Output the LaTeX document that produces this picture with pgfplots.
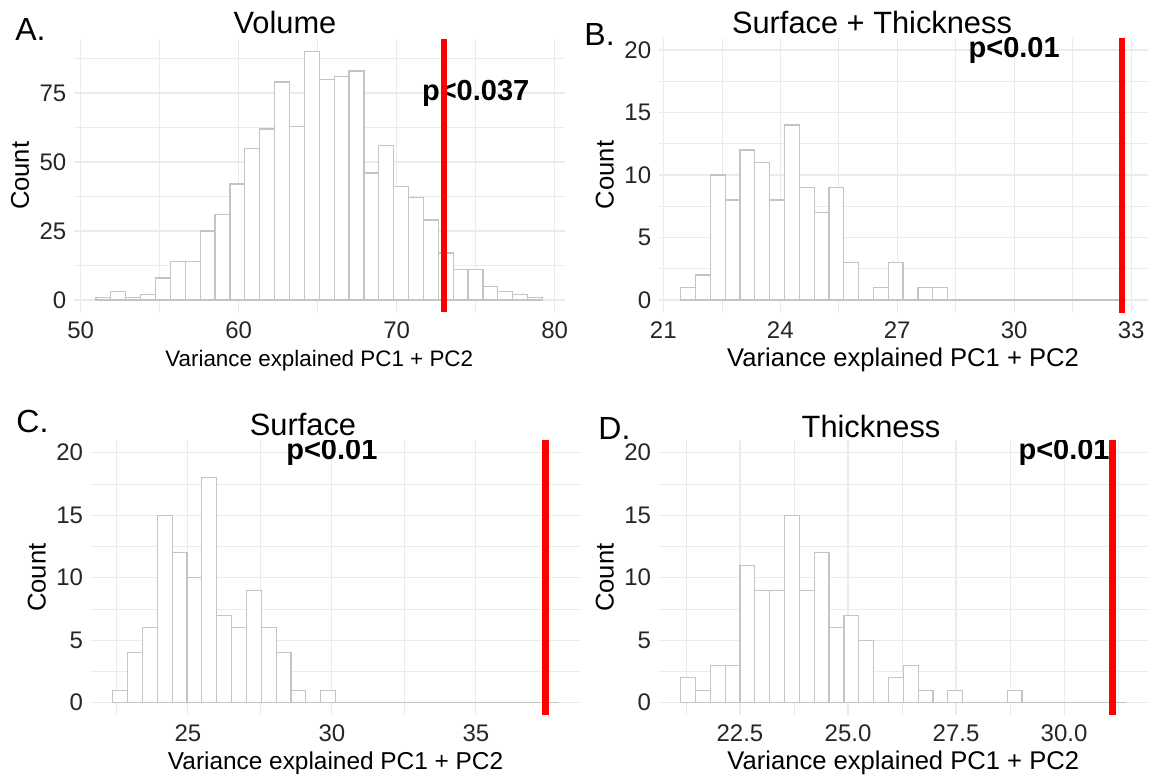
\documentclass[border=0pt]{standalone}
\usepackage{pgfplots}
\pgfplotsset{compat=1.18}
\usepackage{fontspec}
\setmainfont{Liberation Sans}
\definecolor{gridc}{HTML}{EBEBEB}
\definecolor{barc}{HTML}{C4C4C4}
\tikzset{pval/.style={font=\fontsize{14.5}{17}\bfseries\selectfont}}
\pgfplotsset{
  histo/.style={
    scale only axis,
    anchor=south west,
    axis line style={draw=none},
    major tick length=0pt,
    minor tick length=0pt,
    xmajorgrids, ymajorgrids, xminorgrids, yminorgrids,
    major grid style={draw=gridc, line width=0.55pt},
    minor grid style={draw=gridc, line width=0.3pt},
    tick label style={font=\fontsize{12}{14}\selectfont, text=black!85, inner sep=0pt},
    xticklabel style={anchor=base, yshift=-13pt},
    yticklabel style={anchor=east, xshift=-3.5pt},
    xlabel={Variance explained PC1 + PC2},
    ylabel={Count},
    every axis x label/.style={at={([yshift=-27pt]axis description cs:0.5,0)}, anchor=base, inner sep=0pt, font=\fontsize{12.8}{15}\selectfont},
    every axis y label/.style={at={([xshift=-22.4pt]axis description cs:0,0.5)}, rotate=90, anchor=base, inner sep=0pt, font=\fontsize{12.8}{15}\selectfont},
  },
  histbar/.style={ybar interval, fill=white, draw=barc, line width=0.6pt},
  vline/.style={draw=red, line width=3.3pt},
}
\begin{document}
\begin{tikzpicture}
\useasboundingbox (0,0) rectangle (575.5pt,-388.5pt);

% ---------------- A. Volume ----------------
\begin{axis}[histo, at={(36.85pt,-156.2pt)}, width=245.55pt, height=136.6pt,
  every axis x label/.append style={font=\fontsize{11.2}{13}\selectfont},
  xmin=49.56, xmax=80.64, ymin=-4.5, ymax=94.5,
  xtick={50,60,70,80}, xticklabels={50,60,70,80}, minor xtick={55,65,75},
  ytick={0,25,50,75}, yticklabels={0,25,50,75}, minor ytick={12.5,37.5,62.5,87.5}]
\addplot[histbar] coordinates {
(50.970,1) (51.912,3) (52.854,1) (53.796,2) (54.738,8) (55.680,14) (56.622,14) (57.564,25)
(58.506,31) (59.448,42) (60.390,55) (61.332,62) (62.274,79) (63.216,63) (64.158,90) (65.100,80)
(66.042,81) (66.984,83) (67.926,46) (68.868,56) (69.810,41) (70.752,37) (71.694,29) (72.636,17)
(73.578,11) (74.520,11) (75.462,5) (76.404,3) (77.346,2) (78.288,1) (79.230,0)};
\node[pval] at (axis cs:75,75) {p<0.037};
\addplot[vline] coordinates {(73.0,-4.5) (73.0,94.5)};
\end{axis}

% ---------------- B. Surface + Thickness ----------------
\begin{axis}[histo, at={(329.25pt,-156.25pt)}, width=244.6pt, height=137.5pt,
  xmin=20.876, xmax=33.425, ymin=-1, ymax=21,
  xtick={21,24,27,30,33}, xticklabels={21,24,27,30,33}, minor xtick={22.5,25.5,28.5,31.5},
  ytick={0,5,10,15,20}, yticklabels={0,5,10,15,20}, minor ytick={2.5,7.5,12.5,17.5}]
\addplot[histbar] coordinates {
(21.446,1) (21.826,2) (22.207,10) (22.587,8) (22.967,12) (23.348,11) (23.728,8) (24.108,14)
(24.488,9) (24.869,7) (25.249,9) (25.629,3) (26.010,0) (26.390,1) (26.770,3) (27.150,0)
(27.531,1) (27.911,1) (28.291,0) (28.672,0) (29.052,0) (29.432,0) (29.813,0) (30.193,0)
(30.573,0) (30.954,0) (31.334,0) (31.714,0) (32.094,0) (32.475,0) (32.855,0)};
\node[pval] at (axis cs:30,20) {p<0.01};
\addplot[vline] coordinates {(32.77,-1) (32.77,21)};
\end{axis}

% ---------------- C. Surface ----------------
\begin{axis}[histo, at={(45.2pt,-357.6pt)}, width=245.2pt, height=137.5pt,
  every axis x label/.append style={font=\fontsize{12.2}{14}\selectfont},
  xmin=21.616, xmax=38.644, ymin=-1, ymax=21,
  xtick={25,30,35}, xticklabels={25,30,35}, minor xtick={22.5,27.5,32.5,37.5},
  ytick={0,5,10,15,20}, yticklabels={0,5,10,15,20}, minor ytick={2.5,7.5,12.5,17.5}]
\addplot[histbar] coordinates {
(22.390,1) (22.906,4) (23.422,6) (23.938,15) (24.454,12) (24.970,10) (25.486,18) (26.002,7)
(26.518,6) (27.034,9) (27.550,6) (28.066,4) (28.582,1) (29.098,0) (29.614,1) (30.130,0)
(30.646,0) (31.162,0) (31.678,0) (32.194,0) (32.710,0) (33.226,0) (33.742,0) (34.258,0)
(34.774,0) (35.290,0) (35.806,0) (36.322,0) (36.838,0) (37.354,0) (37.870,0)};
\node[pval] at (axis cs:30,20) {p<0.01};
\addplot[vline] coordinates {(37.41,-1) (37.41,21)};
\end{axis}

% ---------------- D. Thickness ----------------
\begin{axis}[histo, at={(329.2pt,-357.6pt)}, width=244.9pt, height=137.5pt,
  xmin=20.612, xmax=31.947, ymin=-1, ymax=21,
  xtick={22.5,25,27.5,30}, xticklabels={22.5,25.0,27.5,30.0}, minor xtick={21.25,23.75,26.25,28.75,31.25},
  ytick={0,5,10,15,20}, yticklabels={0,5,10,15,20}, minor ytick={2.5,7.5,12.5,17.5}]
\addplot[histbar] coordinates {
(21.127,2) (21.471,1) (21.814,3) (22.158,3) (22.501,11) (22.845,9) (23.188,9) (23.532,15)
(23.875,9) (24.219,12) (24.562,6) (24.906,7) (25.249,5) (25.593,0) (25.936,2) (26.280,3)
(26.623,1) (26.967,0) (27.310,1) (27.654,0) (27.997,0) (28.341,0) (28.684,1) (29.028,0)
(29.371,0) (29.715,0) (30.058,0) (30.402,0) (30.745,0) (31.089,0) (31.432,0)};
\node[pval] at (axis cs:30,20) {p<0.01};
\addplot[vline] coordinates {(31.12,-1) (31.12,21)};
\end{axis}

% titles and panel letters
\node[anchor=base, inner sep=0pt, font=\fontsize{15.4}{18}\selectfont] at (142.5pt,-16.5pt) {Volume};
\node[anchor=base, inner sep=0pt, font=\fontsize{15.4}{18}\selectfont] at (436pt,-16.5pt) {Surface + Thickness};
\node[anchor=base, inner sep=0pt, font=\fontsize{15.4}{18}\selectfont] at (151.5pt,-217.8pt) {Surface};
\node[anchor=base, inner sep=0pt, font=\fontsize{15.4}{18}\selectfont] at (435.5pt,-218.5pt) {Thickness};
\node[anchor=base west, inner sep=0pt, font=\fontsize{16}{19}\selectfont] at (7.5pt,-20pt) {A.};
\node[anchor=base west, inner sep=0pt, font=\fontsize{16}{19}\selectfont] at (292pt,-22.5pt) {B.};
\node[anchor=base west, inner sep=0pt, font=\fontsize{16}{19}\selectfont] at (8pt,-216pt) {C.};
\node[anchor=base west, inner sep=0pt, font=\fontsize{16}{19}\selectfont] at (299pt,-219.5pt) {D.};
\end{tikzpicture}
\end{document}
